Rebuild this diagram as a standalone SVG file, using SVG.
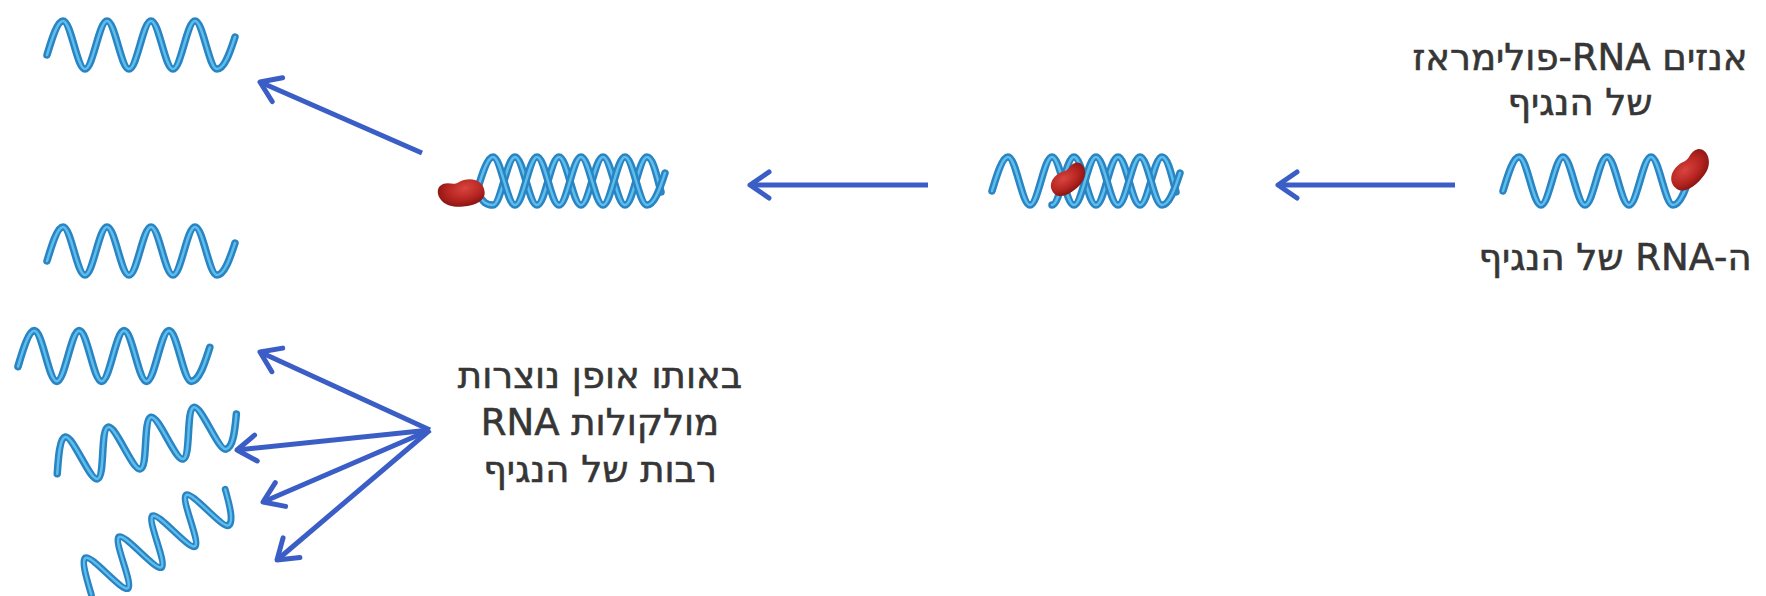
<svg xmlns="http://www.w3.org/2000/svg" xmlns:xlink="http://www.w3.org/1999/xlink" width="1766" height="596" viewBox="0 0 1766 596">
  <style>
    .rna-o { fill: none; stroke: #2a84c2; stroke-width: 7.5; stroke-linecap: round; stroke-linejoin: round; }
    .rna-i { fill: none; stroke: #5dbdec; stroke-width: 2.5; stroke-linecap: round; stroke-linejoin: round; }
    .arrow { fill: none; stroke: #3b5ec6; stroke-width: 5; stroke-linecap: butt; marker-end: url(#chevron); }
    .label { font-family: "DejaVu Sans", "Liberation Sans", sans-serif; font-size: 37px; fill: #363636; stroke: #363636; stroke-width: 0.6; text-anchor: middle; }
    .enzyme { fill: url(#enzymeFill); }
  </style>
  <defs>
    <!-- single RNA strand, local midline y=0 -->
    <path id="strandA" d="M0,10 C4,-3 10,-24 16,-24 C24,-24 30,24 38,24 C46,24 52,-24 60,-24 C68,-24 74,24 82,24 C90,24 96,-24 104,-24 C112,-24 118,24 126,24 C134,24 140,-24 148,-24 C156,-24 162,24 170,24 C178,24 184,4 188,-8"/>
    <!-- complementary strand, half a period out of phase -->
    <path id="strandB" d="M0,11 C6,22 10,24 16,24 C24,24 30,-24 38,-24 C46,-24 52,24 60,24 C68,24 74,-24 82,-24 C90,-24 96,24 104,24 C112,24 118,-24 126,-24 C134,-24 140,24 148,24 C156,24 162,-24 170,-24 C176,-24 180,-4 184,11"/>
    <path id="strandBshort" d="M60,24 C68,24 74,-24 82,-24 C90,-24 96,24 104,24 C112,24 118,-24 126,-24 C134,-24 140,24 148,24 C156,24 162,-24 170,-24 C176,-24 180,-4 184,11"/>
    <!-- polymerase body -->
    <path id="bean" d="M-20,5 C-22,-7 -9,-13 2,-10 C8,-8 12,-15 20,-11 C27,-6 23,7 12,11 C2,15 -18,17 -20,5 Z"/>
    <radialGradient id="enzymeFill" cx="0.4" cy="0.35" r="0.7">
      <stop offset="0" stop-color="#d9453f"/>
      <stop offset="0.6" stop-color="#b3231f"/>
      <stop offset="1" stop-color="#7d1210"/>
    </radialGradient>
    <marker id="chevron" viewBox="-26 -20 32 40" markerWidth="32" markerHeight="40" refX="0" refY="0" orient="auto" markerUnits="userSpaceOnUse">
      <path d="M-19,-13 L0,0 L-19,13" fill="none" stroke="#3b5ec6" stroke-width="5" stroke-linecap="round" stroke-linejoin="round"/>
    </marker>
  </defs>

  <!-- incoming viral RNA with polymerase -->
  <g id="viral-rna">
    <g transform="translate(1503,181)">
      <use href="#strandA" class="rna-o"/>
      <use href="#strandA" class="rna-i"/>
    </g>
    <use href="#bean" class="enzyme" transform="translate(1689,171) rotate(-38) scale(1.05)"/>
  </g>

  <g id="label-polymerase">
    <text class="label" direction="rtl"><tspan x="1580" y="70">אנזים RNA-פולימראז</tspan><tspan x="1580" y="115">של הנגיף</tspan></text>
  </g>
  <g id="label-viral-rna">
    <text class="label" x="1615" y="270" direction="rtl">ה-RNA של הנגיף</text>
  </g>

  <!-- copying starts -->
  <g id="copy-start">
    <g transform="translate(992,181)">
      <use href="#strandBshort" class="rna-o"/>
      <use href="#strandBshort" class="rna-i"/>
      <use href="#strandA" class="rna-o"/>
      <use href="#strandA" class="rna-i"/>
    </g>
    <use href="#bean" class="enzyme" transform="translate(1067,180) rotate(-30) scale(0.9)"/>
  </g>

  <!-- full double strand -->
  <g id="double-strand">
    <g transform="translate(477,181)">
      <use href="#strandB" class="rna-o"/>
      <use href="#strandB" class="rna-i"/>
      <use href="#strandA" class="rna-o"/>
      <use href="#strandA" class="rna-i"/>
    </g>
    <use href="#bean" class="enzyme" transform="translate(463,192) rotate(-15) scale(-1.05,1.05)"/>
  </g>

  <!-- new RNA copies -->
  <g id="copy-1">
    <g transform="translate(47,45)">
      <use href="#strandA" class="rna-o"/>
      <use href="#strandA" class="rna-i"/>
    </g>
  </g>
  <g id="copy-2">
    <g transform="translate(47,251)">
      <use href="#strandA" class="rna-o"/>
      <use href="#strandA" class="rna-i"/>
    </g>
  </g>
  <g id="copy-3">
    <g transform="translate(18,356) scale(1.02,1.05)">
      <use href="#strandA" class="rna-o"/>
      <use href="#strandA" class="rna-i"/>
    </g>
  </g>
  <g id="copy-4">
    <g transform="translate(55,464) rotate(-13)">
      <use href="#strandA" class="rna-o"/>
      <use href="#strandA" class="rna-i"/>
    </g>
  </g>
  <g id="copy-5">
    <g transform="translate(86,586) rotate(-32) scale(0.9,1)">
      <use href="#strandA" class="rna-o"/>
      <use href="#strandA" class="rna-i"/>
    </g>
  </g>

  <g id="label-copies">
    <text class="label" direction="rtl"><tspan x="600" y="388">באותו אופן נוצרות</tspan><tspan x="600" y="435">מולקולות RNA</tspan><tspan x="600" y="482">רבות של הנגיף</tspan></text>
  </g>

  <g id="connectors">
    <line class="arrow" x1="1455" y1="185" x2="1278" y2="185"/>
    <line class="arrow" x1="928" y1="185" x2="750" y2="185"/>
    <line class="arrow" x1="422" y1="153" x2="260" y2="82"/>
    <line class="arrow" x1="430" y1="430" x2="260" y2="352"/>
    <line class="arrow" x1="430" y1="430" x2="237" y2="450"/>
    <line class="arrow" x1="430" y1="430" x2="263" y2="502"/>
    <line class="arrow" x1="430" y1="430" x2="277" y2="560"/>
  </g>
</svg>
